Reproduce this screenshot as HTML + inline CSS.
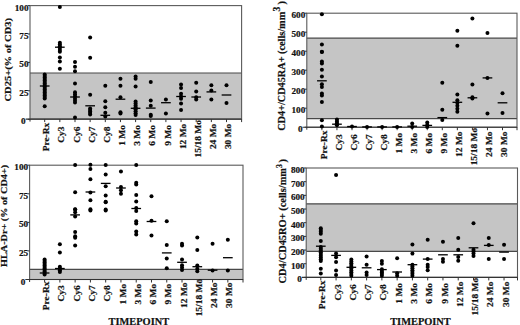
<!DOCTYPE html>
<html><head><meta charset="utf-8"><title>Figure</title>
<style>
html,body{margin:0;padding:0;background:#fff;}
body{width:520px;height:325px;overflow:hidden;}
svg{display:block;}
text{font-family:"Liberation Serif",serif;font-weight:bold;fill:#111;stroke:#111;stroke-width:0.2px;}
.yl{font-size:9.2px;text-anchor:end;}
.xl{font-size:9px;text-anchor:end;}
.yt{font-size:9px;}
.tp{font-size:10px;}
</style></head>
<body>
<svg width="520" height="325" viewBox="0 0 520 325">
<rect width="520" height="325" fill="#fff"/>
<rect x="30.0" y="73.0" width="211.6" height="46.3" fill="#c5c5c5"/>
<line x1="30.0" y1="73.0" x2="241.6" y2="73.0" stroke="#484848" stroke-width="1.2"/>
<rect x="30.0" y="5.6" width="211.6" height="113.5" fill="none" stroke="#5a5a5a" stroke-width="1.1"/>
<line x1="25.7" y1="119.1" x2="241.6" y2="119.1" stroke="#333" stroke-width="1.1"/>
<line x1="241.6" y1="119.1" x2="241.6" y2="122.1" stroke="#333" stroke-width="1"/>
<line x1="30.0" y1="119.1" x2="30.0" y2="121.6" stroke="#333" stroke-width="1"/>
<line x1="27.8" y1="5.6" x2="30.0" y2="5.6" stroke="#333" stroke-width="1"/>
<text x="28.5" y="10.6" class="yl">100</text>
<line x1="27.8" y1="34.0" x2="30.0" y2="34.0" stroke="#333" stroke-width="1"/>
<text x="28.5" y="39.0" class="yl">75</text>
<line x1="27.8" y1="62.4" x2="30.0" y2="62.4" stroke="#333" stroke-width="1"/>
<text x="28.5" y="67.4" class="yl">50</text>
<line x1="27.8" y1="90.8" x2="30.0" y2="90.8" stroke="#333" stroke-width="1"/>
<text x="28.5" y="95.8" class="yl">25</text>
<line x1="27.8" y1="119.3" x2="30.0" y2="119.3" stroke="#333" stroke-width="1"/>
<text x="25.7" y="124.3" class="yl">0</text>
<line x1="44.70" y1="119.1" x2="44.70" y2="122.1" stroke="#333" stroke-width="1"/>
<text class="xl" transform="translate(49.30,122.69) rotate(-90) scale(1.05,1)">Pre-Rx</text>
<line x1="59.85" y1="119.1" x2="59.85" y2="122.1" stroke="#333" stroke-width="1"/>
<text class="xl" transform="translate(64.45,126.42) rotate(-90) scale(1.05,1)">Cy3</text>
<line x1="75.00" y1="119.1" x2="75.00" y2="122.1" stroke="#333" stroke-width="1"/>
<text class="xl" transform="translate(79.60,126.42) rotate(-90) scale(1.05,1)">Cy6</text>
<line x1="90.15" y1="119.1" x2="90.15" y2="122.1" stroke="#333" stroke-width="1"/>
<text class="xl" transform="translate(94.75,126.42) rotate(-90) scale(1.05,1)">Cy7</text>
<line x1="105.30" y1="119.1" x2="105.30" y2="122.1" stroke="#333" stroke-width="1"/>
<text class="xl" transform="translate(109.90,126.42) rotate(-90) scale(1.05,1)">Cy8</text>
<line x1="120.45" y1="119.1" x2="120.45" y2="122.1" stroke="#333" stroke-width="1"/>
<text class="xl" transform="translate(125.05,125.08) rotate(-90) scale(1.05,1)">1 Mo</text>
<line x1="135.60" y1="119.1" x2="135.60" y2="122.1" stroke="#333" stroke-width="1"/>
<text class="xl" transform="translate(140.20,125.08) rotate(-90) scale(1.05,1)">3 Mo</text>
<line x1="150.75" y1="119.1" x2="150.75" y2="122.1" stroke="#333" stroke-width="1"/>
<text class="xl" transform="translate(155.35,125.08) rotate(-90) scale(1.05,1)">6 Mo</text>
<line x1="165.90" y1="119.1" x2="165.90" y2="122.1" stroke="#333" stroke-width="1"/>
<text class="xl" transform="translate(170.50,125.08) rotate(-90) scale(1.05,1)">9 Mo</text>
<line x1="181.05" y1="119.1" x2="181.05" y2="122.1" stroke="#333" stroke-width="1"/>
<text class="xl" transform="translate(185.65,123.66) rotate(-90) scale(1.05,1)">12 Mo</text>
<line x1="196.20" y1="119.1" x2="196.20" y2="122.1" stroke="#333" stroke-width="1"/>
<text class="xl" transform="translate(200.80,120.04) rotate(-90) scale(1.05,1)">15/18 Mo</text>
<line x1="211.35" y1="119.1" x2="211.35" y2="122.1" stroke="#333" stroke-width="1"/>
<text class="xl" transform="translate(215.95,123.66) rotate(-90) scale(1.05,1)">24 Mo</text>
<line x1="226.50" y1="119.1" x2="226.50" y2="122.1" stroke="#333" stroke-width="1"/>
<text class="xl" transform="translate(231.10,123.66) rotate(-90) scale(1.05,1)">30 Mo</text>
<circle cx="44.70" cy="74.5" r="2.0"/>
<circle cx="44.70" cy="76.0" r="2.0"/>
<circle cx="44.70" cy="77.5" r="2.0"/>
<circle cx="44.70" cy="79.0" r="2.0"/>
<circle cx="44.70" cy="80.5" r="2.0"/>
<circle cx="44.70" cy="82.0" r="2.0"/>
<circle cx="44.70" cy="83.5" r="2.0"/>
<circle cx="44.70" cy="85.0" r="2.0"/>
<circle cx="44.70" cy="86.5" r="2.0"/>
<circle cx="44.70" cy="88.0" r="2.0"/>
<circle cx="44.70" cy="89.5" r="2.0"/>
<circle cx="44.70" cy="91.0" r="2.0"/>
<circle cx="44.70" cy="92.5" r="2.0"/>
<circle cx="44.70" cy="94.0" r="2.0"/>
<circle cx="44.70" cy="95.5" r="2.0"/>
<circle cx="44.70" cy="97.0" r="2.0"/>
<circle cx="44.70" cy="98.5" r="2.0"/>
<circle cx="44.70" cy="106.3" r="2.0"/>
<rect x="39.85" y="85.35" width="9.7" height="1.3"/>
<circle cx="59.85" cy="6.9" r="2.0"/>
<circle cx="59.85" cy="42.7" r="2.0"/>
<circle cx="59.85" cy="44.5" r="2.0"/>
<circle cx="59.85" cy="46.3" r="2.0"/>
<circle cx="59.85" cy="48.1" r="2.0"/>
<circle cx="59.85" cy="49.9" r="2.0"/>
<circle cx="59.85" cy="51.7" r="2.0"/>
<circle cx="59.85" cy="57.5" r="2.0"/>
<circle cx="59.85" cy="61.6" r="2.0"/>
<circle cx="59.85" cy="68.8" r="2.0"/>
<rect x="55.00" y="46.55" width="9.7" height="1.3"/>
<circle cx="75.00" cy="62.0" r="2.0"/>
<circle cx="75.00" cy="66.7" r="2.0"/>
<circle cx="75.00" cy="71.3" r="2.0"/>
<circle cx="75.00" cy="83.4" r="2.0"/>
<circle cx="75.00" cy="92.2" r="2.0"/>
<circle cx="75.00" cy="94.28" r="2.0"/>
<circle cx="75.00" cy="96.36" r="2.0"/>
<circle cx="75.00" cy="98.44" r="2.0"/>
<circle cx="75.00" cy="100.52" r="2.0"/>
<circle cx="75.00" cy="102.6" r="2.0"/>
<circle cx="75.00" cy="117.4" r="2.0"/>
<rect x="70.15" y="96.35" width="9.7" height="1.3"/>
<circle cx="90.15" cy="37.6" r="2.0"/>
<circle cx="90.15" cy="57.8" r="2.0"/>
<circle cx="90.15" cy="94.7" r="2.0"/>
<circle cx="90.15" cy="108.5" r="2.0"/>
<circle cx="90.15" cy="110.0" r="2.0"/>
<circle cx="90.15" cy="111.5" r="2.0"/>
<circle cx="90.15" cy="113.0" r="2.0"/>
<circle cx="90.15" cy="114.5" r="2.0"/>
<rect x="85.30" y="105.15" width="9.7" height="1.3"/>
<circle cx="105.30" cy="85.8" r="2.0"/>
<circle cx="105.30" cy="101.2" r="2.0"/>
<circle cx="105.30" cy="107.3" r="2.0"/>
<circle cx="105.30" cy="112.7" r="2.0"/>
<circle cx="105.30" cy="116.5" r="2.0"/>
<rect x="100.45" y="114.65" width="9.7" height="1.3"/>
<circle cx="120.45" cy="78.8" r="2.0"/>
<circle cx="120.45" cy="85.8" r="2.0"/>
<circle cx="120.45" cy="97.3" r="2.0"/>
<circle cx="120.45" cy="112.2" r="2.0"/>
<circle cx="120.45" cy="113.5" r="2.0"/>
<rect x="115.60" y="98.55" width="9.7" height="1.3"/>
<circle cx="135.60" cy="76.5" r="2.0"/>
<circle cx="135.60" cy="78.8" r="2.0"/>
<circle cx="135.60" cy="86.4" r="2.0"/>
<circle cx="135.60" cy="101.5" r="2.0"/>
<circle cx="135.60" cy="103.44" r="2.0"/>
<circle cx="135.60" cy="105.38" r="2.0"/>
<circle cx="135.60" cy="107.32" r="2.0"/>
<circle cx="135.60" cy="109.26" r="2.0"/>
<circle cx="135.60" cy="111.2" r="2.0"/>
<circle cx="135.60" cy="113.14" r="2.0"/>
<circle cx="135.60" cy="115.08" r="2.0"/>
<rect x="130.75" y="107.65" width="9.7" height="1.3"/>
<circle cx="150.75" cy="81.9" r="2.0"/>
<circle cx="150.75" cy="100.4" r="2.0"/>
<circle cx="150.75" cy="105.8" r="2.0"/>
<circle cx="150.75" cy="114.8" r="2.0"/>
<circle cx="150.75" cy="116.0" r="2.0"/>
<rect x="145.90" y="107.45" width="9.7" height="1.3"/>
<circle cx="165.90" cy="99.6" r="2.0"/>
<circle cx="165.90" cy="113.5" r="2.0"/>
<rect x="161.05" y="102.05" width="9.7" height="1.3"/>
<circle cx="181.05" cy="84.5" r="2.0"/>
<circle cx="181.05" cy="88.1" r="2.0"/>
<circle cx="181.05" cy="93.8" r="2.0"/>
<circle cx="181.05" cy="96.5" r="2.0"/>
<circle cx="181.05" cy="98.8" r="2.0"/>
<circle cx="181.05" cy="103.5" r="2.0"/>
<circle cx="181.05" cy="110.1" r="2.0"/>
<rect x="176.20" y="95.85" width="9.7" height="1.3"/>
<circle cx="196.20" cy="82.7" r="2.0"/>
<circle cx="196.20" cy="91.6" r="2.0"/>
<circle cx="196.20" cy="97.3" r="2.0"/>
<circle cx="196.20" cy="99.6" r="2.0"/>
<rect x="191.35" y="96.35" width="9.7" height="1.3"/>
<circle cx="211.35" cy="85.3" r="2.0"/>
<circle cx="211.35" cy="90.4" r="2.0"/>
<circle cx="211.35" cy="99.6" r="2.0"/>
<rect x="206.50" y="91.25" width="9.7" height="1.3"/>
<circle cx="226.50" cy="85.3" r="2.0"/>
<circle cx="226.50" cy="103.0" r="2.0"/>
<rect x="221.65" y="94.35" width="9.7" height="1.3"/>
<text class="yt" style="font-size:9.0px" transform="translate(10.8,101.5) rotate(-90)" textLength="83.5" lengthAdjust="spacingAndGlyphs">CD25+(% of CD3)</text>
<rect x="306.8" y="38.2" width="210.2" height="80.5" fill="#c5c5c5"/>
<line x1="306.8" y1="38.2" x2="517.0" y2="38.2" stroke="#484848" stroke-width="1.2"/>
<line x1="306.8" y1="118.7" x2="517.0" y2="118.7" stroke="#484848" stroke-width="1.2"/>
<rect x="306.8" y="13.2" width="210.2" height="114.0" fill="none" stroke="#5a5a5a" stroke-width="1.1"/>
<line x1="302.5" y1="127.2" x2="517.0" y2="127.2" stroke="#333" stroke-width="1.1"/>
<line x1="517.0" y1="127.2" x2="517.0" y2="130.2" stroke="#333" stroke-width="1"/>
<line x1="306.8" y1="127.2" x2="306.8" y2="129.7" stroke="#333" stroke-width="1"/>
<line x1="304.6" y1="13.2" x2="306.8" y2="13.2" stroke="#333" stroke-width="1"/>
<text x="305.3" y="18.2" class="yl">600</text>
<line x1="304.6" y1="32.2" x2="306.8" y2="32.2" stroke="#333" stroke-width="1"/>
<text x="305.3" y="37.2" class="yl">500</text>
<line x1="304.6" y1="51.2" x2="306.8" y2="51.2" stroke="#333" stroke-width="1"/>
<text x="305.3" y="56.2" class="yl">400</text>
<line x1="304.6" y1="70.2" x2="306.8" y2="70.2" stroke="#333" stroke-width="1"/>
<text x="305.3" y="75.2" class="yl">300</text>
<line x1="304.6" y1="89.2" x2="306.8" y2="89.2" stroke="#333" stroke-width="1"/>
<text x="305.3" y="94.2" class="yl">200</text>
<line x1="304.6" y1="108.2" x2="306.8" y2="108.2" stroke="#333" stroke-width="1"/>
<text x="305.3" y="113.2" class="yl">100</text>
<line x1="304.6" y1="127.2" x2="306.8" y2="127.2" stroke="#333" stroke-width="1"/>
<text x="302.5" y="132.2" class="yl">0</text>
<line x1="321.90" y1="127.2" x2="321.90" y2="130.2" stroke="#333" stroke-width="1"/>
<text class="xl" transform="translate(326.50,130.49) rotate(-90) scale(1.05,1)">Pre-Rx</text>
<line x1="336.95" y1="127.2" x2="336.95" y2="130.2" stroke="#333" stroke-width="1"/>
<text class="xl" transform="translate(341.55,134.22) rotate(-90) scale(1.05,1)">Cy3</text>
<line x1="352.00" y1="127.2" x2="352.00" y2="130.2" stroke="#333" stroke-width="1"/>
<text class="xl" transform="translate(356.60,134.22) rotate(-90) scale(1.05,1)">Cy6</text>
<line x1="367.05" y1="127.2" x2="367.05" y2="130.2" stroke="#333" stroke-width="1"/>
<text class="xl" transform="translate(371.65,134.22) rotate(-90) scale(1.05,1)">Cy7</text>
<line x1="382.10" y1="127.2" x2="382.10" y2="130.2" stroke="#333" stroke-width="1"/>
<text class="xl" transform="translate(386.70,134.22) rotate(-90) scale(1.05,1)">Cy8</text>
<line x1="397.15" y1="127.2" x2="397.15" y2="130.2" stroke="#333" stroke-width="1"/>
<text class="xl" transform="translate(401.75,132.88) rotate(-90) scale(1.05,1)">1 Mo</text>
<line x1="412.20" y1="127.2" x2="412.20" y2="130.2" stroke="#333" stroke-width="1"/>
<text class="xl" transform="translate(416.80,132.88) rotate(-90) scale(1.05,1)">3 Mo</text>
<line x1="427.25" y1="127.2" x2="427.25" y2="130.2" stroke="#333" stroke-width="1"/>
<text class="xl" transform="translate(431.85,132.88) rotate(-90) scale(1.05,1)">6 Mo</text>
<line x1="442.30" y1="127.2" x2="442.30" y2="130.2" stroke="#333" stroke-width="1"/>
<text class="xl" transform="translate(446.90,132.88) rotate(-90) scale(1.05,1)">9 Mo</text>
<line x1="457.35" y1="127.2" x2="457.35" y2="130.2" stroke="#333" stroke-width="1"/>
<text class="xl" transform="translate(461.95,131.46) rotate(-90) scale(1.05,1)">12 Mo</text>
<line x1="472.40" y1="127.2" x2="472.40" y2="130.2" stroke="#333" stroke-width="1"/>
<text class="xl" transform="translate(477.00,127.84) rotate(-90) scale(1.05,1)">15/18 Mo</text>
<line x1="487.45" y1="127.2" x2="487.45" y2="130.2" stroke="#333" stroke-width="1"/>
<text class="xl" transform="translate(492.05,131.46) rotate(-90) scale(1.05,1)">24 Mo</text>
<line x1="502.50" y1="127.2" x2="502.50" y2="130.2" stroke="#333" stroke-width="1"/>
<text class="xl" transform="translate(507.10,131.46) rotate(-90) scale(1.05,1)">30 Mo</text>
<circle cx="321.90" cy="14.3" r="2.0"/>
<circle cx="321.90" cy="44.6" r="2.0"/>
<circle cx="321.90" cy="51.8" r="2.0"/>
<circle cx="321.90" cy="52.0" r="2.0"/>
<circle cx="321.90" cy="61.5" r="2.0"/>
<circle cx="321.90" cy="63.5" r="2.0"/>
<circle cx="321.90" cy="69.7" r="2.0"/>
<circle cx="321.90" cy="76.5" r="2.0"/>
<circle cx="321.90" cy="84.2" r="2.0"/>
<circle cx="321.90" cy="86.9" r="2.0"/>
<circle cx="321.90" cy="93.4" r="2.0"/>
<circle cx="321.90" cy="95.4" r="2.0"/>
<circle cx="321.90" cy="102.0" r="2.0"/>
<circle cx="321.90" cy="120.3" r="2.0"/>
<circle cx="321.90" cy="126.6" r="2.0"/>
<rect x="317.05" y="80.15" width="9.7" height="1.3"/>
<circle cx="336.95" cy="119.5" r="2.0"/>
<circle cx="336.95" cy="121.4" r="2.0"/>
<circle cx="336.95" cy="123.3" r="2.0"/>
<circle cx="336.95" cy="125.2" r="2.0"/>
<rect x="332.10" y="123.55" width="9.7" height="1.3"/>
<circle cx="352.00" cy="126.5" r="2.0"/>
<rect x="347.15" y="125.85" width="9.7" height="1.3"/>
<circle cx="367.05" cy="126.9" r="2.0"/>
<rect x="362.20" y="126.25" width="9.7" height="1.3"/>
<circle cx="382.10" cy="126.9" r="2.0"/>
<rect x="377.25" y="126.25" width="9.7" height="1.3"/>
<circle cx="397.15" cy="126.9" r="2.0"/>
<rect x="392.30" y="126.25" width="9.7" height="1.3"/>
<circle cx="412.20" cy="123.5" r="2.0"/>
<circle cx="412.20" cy="126.9" r="2.0"/>
<rect x="407.35" y="125.55" width="9.7" height="1.3"/>
<circle cx="427.25" cy="122.6" r="2.0"/>
<circle cx="427.25" cy="125.0" r="2.0"/>
<circle cx="427.25" cy="127.0" r="2.0"/>
<rect x="422.40" y="124.75" width="9.7" height="1.3"/>
<circle cx="442.30" cy="82.7" r="2.0"/>
<circle cx="442.30" cy="109.7" r="2.0"/>
<circle cx="442.30" cy="120.0" r="2.0"/>
<rect x="437.45" y="116.95" width="9.7" height="1.3"/>
<circle cx="457.35" cy="30.8" r="2.0"/>
<circle cx="457.35" cy="45.8" r="2.0"/>
<circle cx="457.35" cy="94.5" r="2.0"/>
<circle cx="457.35" cy="100.3" r="2.0"/>
<circle cx="457.35" cy="103.0" r="2.0"/>
<circle cx="457.35" cy="105.8" r="2.0"/>
<circle cx="457.35" cy="108.8" r="2.0"/>
<circle cx="457.35" cy="111.8" r="2.0"/>
<rect x="452.50" y="101.65" width="9.7" height="1.3"/>
<circle cx="472.40" cy="18.5" r="2.0"/>
<circle cx="472.40" cy="84.4" r="2.0"/>
<circle cx="472.40" cy="97.2" r="2.0"/>
<circle cx="472.40" cy="98.5" r="2.0"/>
<rect x="467.55" y="97.15" width="9.7" height="1.3"/>
<circle cx="487.45" cy="33.1" r="2.0"/>
<circle cx="487.45" cy="77.9" r="2.0"/>
<circle cx="487.45" cy="113.5" r="2.0"/>
<rect x="482.60" y="77.25" width="9.7" height="1.3"/>
<circle cx="502.50" cy="93.3" r="2.0"/>
<circle cx="502.50" cy="113.0" r="2.0"/>
<rect x="497.65" y="102.15" width="9.7" height="1.3"/>
<text class="yt" style="font-size:10.0px" transform="translate(284.8,130.8) rotate(-90)" textLength="119.00000000000001" lengthAdjust="spacingAndGlyphs">CD4+/CD45RA+ (cells/mm</text>
<text class="yt" style="font-size:9.5px" transform="translate(279.8,11.6) rotate(-90)">3</text>
<text class="yt" style="font-size:10.0px" transform="translate(284.8,4.6) rotate(-90)">)</text>
<rect x="29.6" y="269.3" width="213.4" height="10.199999999999989" fill="#c5c5c5"/>
<line x1="29.6" y1="269.3" x2="243.0" y2="269.3" stroke="#484848" stroke-width="1.2"/>
<rect x="29.6" y="165.2" width="213.4" height="114.30000000000001" fill="none" stroke="#5a5a5a" stroke-width="1.1"/>
<line x1="25.3" y1="279.5" x2="243.0" y2="279.5" stroke="#333" stroke-width="1.1"/>
<line x1="243.0" y1="279.5" x2="243.0" y2="282.5" stroke="#333" stroke-width="1"/>
<line x1="29.6" y1="279.5" x2="29.6" y2="282.0" stroke="#333" stroke-width="1"/>
<line x1="27.400000000000002" y1="165.2" x2="29.6" y2="165.2" stroke="#333" stroke-width="1"/>
<text x="28.1" y="170.2" class="yl">100</text>
<line x1="27.400000000000002" y1="193.8" x2="29.6" y2="193.8" stroke="#333" stroke-width="1"/>
<text x="28.1" y="198.8" class="yl">75</text>
<line x1="27.400000000000002" y1="222.4" x2="29.6" y2="222.4" stroke="#333" stroke-width="1"/>
<text x="28.1" y="227.4" class="yl">50</text>
<line x1="27.400000000000002" y1="250.9" x2="29.6" y2="250.9" stroke="#333" stroke-width="1"/>
<text x="28.1" y="255.9" class="yl">25</text>
<line x1="27.400000000000002" y1="279.5" x2="29.6" y2="279.5" stroke="#333" stroke-width="1"/>
<text x="25.3" y="284.5" class="yl">0</text>
<line x1="44.60" y1="279.5" x2="44.60" y2="282.5" stroke="#333" stroke-width="1"/>
<text class="xl" transform="translate(49.20,281.49) rotate(-90) scale(1.05,1)">Pre-Rx</text>
<line x1="59.87" y1="279.5" x2="59.87" y2="282.5" stroke="#333" stroke-width="1"/>
<text class="xl" transform="translate(64.47,285.22) rotate(-90) scale(1.05,1)">Cy3</text>
<line x1="75.14" y1="279.5" x2="75.14" y2="282.5" stroke="#333" stroke-width="1"/>
<text class="xl" transform="translate(79.74,285.22) rotate(-90) scale(1.05,1)">Cy6</text>
<line x1="90.41" y1="279.5" x2="90.41" y2="282.5" stroke="#333" stroke-width="1"/>
<text class="xl" transform="translate(95.01,285.22) rotate(-90) scale(1.05,1)">Cy7</text>
<line x1="105.68" y1="279.5" x2="105.68" y2="282.5" stroke="#333" stroke-width="1"/>
<text class="xl" transform="translate(110.28,285.22) rotate(-90) scale(1.05,1)">Cy8</text>
<line x1="120.95" y1="279.5" x2="120.95" y2="282.5" stroke="#333" stroke-width="1"/>
<text class="xl" transform="translate(125.55,283.88) rotate(-90) scale(1.05,1)">1 Mo</text>
<line x1="136.22" y1="279.5" x2="136.22" y2="282.5" stroke="#333" stroke-width="1"/>
<text class="xl" transform="translate(140.82,283.88) rotate(-90) scale(1.05,1)">3 Mo</text>
<line x1="151.49" y1="279.5" x2="151.49" y2="282.5" stroke="#333" stroke-width="1"/>
<text class="xl" transform="translate(156.09,283.88) rotate(-90) scale(1.05,1)">6 Mo</text>
<line x1="166.76" y1="279.5" x2="166.76" y2="282.5" stroke="#333" stroke-width="1"/>
<text class="xl" transform="translate(171.36,283.88) rotate(-90) scale(1.05,1)">9 Mo</text>
<line x1="182.03" y1="279.5" x2="182.03" y2="282.5" stroke="#333" stroke-width="1"/>
<text class="xl" transform="translate(186.63,282.46) rotate(-90) scale(1.05,1)">12 Mo</text>
<line x1="197.30" y1="279.5" x2="197.30" y2="282.5" stroke="#333" stroke-width="1"/>
<text class="xl" transform="translate(201.90,278.84) rotate(-90) scale(1.05,1)">15/18 Mo</text>
<line x1="212.57" y1="279.5" x2="212.57" y2="282.5" stroke="#333" stroke-width="1"/>
<text class="xl" transform="translate(217.17,282.46) rotate(-90) scale(1.05,1)">24 Mo</text>
<line x1="227.84" y1="279.5" x2="227.84" y2="282.5" stroke="#333" stroke-width="1"/>
<text class="xl" transform="translate(232.44,282.46) rotate(-90) scale(1.05,1)">30 Mo</text>
<circle cx="44.60" cy="259.6" r="2.0"/>
<circle cx="44.60" cy="261.1" r="2.0"/>
<circle cx="44.60" cy="262.6" r="2.0"/>
<circle cx="44.60" cy="264.1" r="2.0"/>
<circle cx="44.60" cy="265.6" r="2.0"/>
<circle cx="44.60" cy="267.1" r="2.0"/>
<circle cx="44.60" cy="268.6" r="2.0"/>
<circle cx="44.60" cy="270.1" r="2.0"/>
<circle cx="44.60" cy="271.6" r="2.0"/>
<circle cx="44.60" cy="273.1" r="2.0"/>
<circle cx="44.60" cy="274.6" r="2.0"/>
<rect x="39.75" y="272.35" width="9.7" height="1.3"/>
<circle cx="59.87" cy="244.3" r="2.0"/>
<circle cx="59.87" cy="252.6" r="2.0"/>
<circle cx="59.87" cy="266.7" r="2.0"/>
<circle cx="59.87" cy="268.5" r="2.0"/>
<circle cx="59.87" cy="270.3" r="2.0"/>
<circle cx="59.87" cy="272.1" r="2.0"/>
<rect x="55.02" y="267.85" width="9.7" height="1.3"/>
<circle cx="75.14" cy="165.1" r="2.0"/>
<circle cx="75.14" cy="192.3" r="2.0"/>
<circle cx="75.14" cy="209.2" r="2.0"/>
<circle cx="75.14" cy="209.5" r="2.0"/>
<circle cx="75.14" cy="212.3" r="2.0"/>
<circle cx="75.14" cy="216.6" r="2.0"/>
<circle cx="75.14" cy="232.0" r="2.0"/>
<circle cx="75.14" cy="236.2" r="2.0"/>
<circle cx="75.14" cy="237.7" r="2.0"/>
<circle cx="75.14" cy="245.4" r="2.0"/>
<rect x="70.29" y="214.25" width="9.7" height="1.3"/>
<circle cx="90.41" cy="164.7" r="2.0"/>
<circle cx="90.41" cy="169.0" r="2.0"/>
<circle cx="90.41" cy="179.2" r="2.0"/>
<circle cx="90.41" cy="192.6" r="2.0"/>
<circle cx="90.41" cy="200.3" r="2.0"/>
<circle cx="90.41" cy="209.2" r="2.0"/>
<circle cx="90.41" cy="210.5" r="2.0"/>
<rect x="85.56" y="191.35" width="9.7" height="1.3"/>
<circle cx="105.68" cy="165.1" r="2.0"/>
<circle cx="105.68" cy="174.6" r="2.0"/>
<circle cx="105.68" cy="186.2" r="2.0"/>
<circle cx="105.68" cy="195.4" r="2.0"/>
<circle cx="105.68" cy="201.8" r="2.0"/>
<circle cx="105.68" cy="202.3" r="2.0"/>
<circle cx="105.68" cy="209.5" r="2.0"/>
<circle cx="105.68" cy="210.5" r="2.0"/>
<rect x="100.83" y="182.75" width="9.7" height="1.3"/>
<circle cx="120.95" cy="171.5" r="2.0"/>
<circle cx="120.95" cy="187.0" r="2.0"/>
<circle cx="120.95" cy="190.2" r="2.0"/>
<circle cx="120.95" cy="193.8" r="2.0"/>
<rect x="116.10" y="187.35" width="9.7" height="1.3"/>
<circle cx="136.22" cy="164.9" r="2.0"/>
<circle cx="136.22" cy="182.8" r="2.0"/>
<circle cx="136.22" cy="184.6" r="2.0"/>
<circle cx="136.22" cy="195.1" r="2.0"/>
<circle cx="136.22" cy="201.5" r="2.0"/>
<circle cx="136.22" cy="208.0" r="2.0"/>
<circle cx="136.22" cy="211.1" r="2.0"/>
<circle cx="136.22" cy="221.2" r="2.0"/>
<circle cx="136.22" cy="223.4" r="2.0"/>
<circle cx="136.22" cy="231.5" r="2.0"/>
<circle cx="136.22" cy="234.6" r="2.0"/>
<rect x="131.37" y="207.85" width="9.7" height="1.3"/>
<circle cx="151.49" cy="196.2" r="2.0"/>
<circle cx="151.49" cy="220.8" r="2.0"/>
<circle cx="151.49" cy="235.4" r="2.0"/>
<rect x="146.64" y="220.85" width="9.7" height="1.3"/>
<circle cx="166.76" cy="221.2" r="2.0"/>
<circle cx="166.76" cy="245.0" r="2.0"/>
<circle cx="166.76" cy="258.5" r="2.0"/>
<circle cx="166.76" cy="268.3" r="2.0"/>
<rect x="161.91" y="252.25" width="9.7" height="1.3"/>
<circle cx="182.03" cy="243.7" r="2.0"/>
<circle cx="182.03" cy="245.6" r="2.0"/>
<circle cx="182.03" cy="259.6" r="2.0"/>
<circle cx="182.03" cy="265.2" r="2.0"/>
<circle cx="182.03" cy="267.5" r="2.0"/>
<circle cx="182.03" cy="270.0" r="2.0"/>
<rect x="177.18" y="261.65" width="9.7" height="1.3"/>
<circle cx="197.30" cy="237.5" r="2.0"/>
<circle cx="197.30" cy="250.0" r="2.0"/>
<circle cx="197.30" cy="265.4" r="2.0"/>
<circle cx="197.30" cy="268.7" r="2.0"/>
<circle cx="197.30" cy="271.2" r="2.0"/>
<rect x="192.45" y="266.05" width="9.7" height="1.3"/>
<circle cx="212.57" cy="243.7" r="2.0"/>
<circle cx="212.57" cy="270.6" r="2.0"/>
<rect x="207.72" y="269.55" width="9.7" height="1.3"/>
<circle cx="227.84" cy="239.8" r="2.0"/>
<circle cx="227.84" cy="270.6" r="2.0"/>
<rect x="222.99" y="257.05" width="9.7" height="1.3"/>
<text class="yt" style="font-size:9.0px" transform="translate(7.4,266.9) rotate(-90)" textLength="101.99999999999997" lengthAdjust="spacingAndGlyphs">HLA-Dr+ (% of CD4+)</text>
<rect x="306.2" y="203.8" width="211.3" height="47.599999999999994" fill="#c5c5c5"/>
<line x1="306.2" y1="203.8" x2="517.5" y2="203.8" stroke="#484848" stroke-width="1.2"/>
<line x1="306.2" y1="251.4" x2="517.5" y2="251.4" stroke="#484848" stroke-width="1.2"/>
<rect x="306.2" y="168.0" width="211.3" height="109.39999999999998" fill="none" stroke="#5a5a5a" stroke-width="1.1"/>
<line x1="301.9" y1="277.4" x2="517.5" y2="277.4" stroke="#333" stroke-width="1.1"/>
<line x1="517.5" y1="277.4" x2="517.5" y2="280.4" stroke="#333" stroke-width="1"/>
<line x1="306.2" y1="277.4" x2="306.2" y2="279.9" stroke="#333" stroke-width="1"/>
<line x1="304.0" y1="168.0" x2="306.2" y2="168.0" stroke="#333" stroke-width="1"/>
<text x="304.7" y="173.0" class="yl">800</text>
<line x1="304.0" y1="181.675" x2="306.2" y2="181.675" stroke="#333" stroke-width="1"/>
<text x="304.7" y="186.675" class="yl">700</text>
<line x1="304.0" y1="195.35" x2="306.2" y2="195.35" stroke="#333" stroke-width="1"/>
<text x="304.7" y="200.35" class="yl">600</text>
<line x1="304.0" y1="209.025" x2="306.2" y2="209.025" stroke="#333" stroke-width="1"/>
<text x="304.7" y="214.025" class="yl">500</text>
<line x1="304.0" y1="222.7" x2="306.2" y2="222.7" stroke="#333" stroke-width="1"/>
<text x="304.7" y="227.7" class="yl">400</text>
<line x1="304.0" y1="236.375" x2="306.2" y2="236.375" stroke="#333" stroke-width="1"/>
<text x="304.7" y="241.375" class="yl">300</text>
<line x1="304.0" y1="250.05" x2="306.2" y2="250.05" stroke="#333" stroke-width="1"/>
<text x="304.7" y="255.05" class="yl">200</text>
<line x1="304.0" y1="263.725" x2="306.2" y2="263.725" stroke="#333" stroke-width="1"/>
<text x="304.7" y="268.725" class="yl">100</text>
<line x1="304.0" y1="277.4" x2="306.2" y2="277.4" stroke="#333" stroke-width="1"/>
<text x="301.9" y="282.4" class="yl">0</text>
<line x1="320.80" y1="277.4" x2="320.80" y2="280.4" stroke="#333" stroke-width="1"/>
<text class="xl" transform="translate(325.40,280.54) rotate(-90) scale(1.05,1)">Pre-Rx</text>
<line x1="336.07" y1="277.4" x2="336.07" y2="280.4" stroke="#333" stroke-width="1"/>
<text class="xl" transform="translate(340.67,284.27) rotate(-90) scale(1.05,1)">Cy3</text>
<line x1="351.34" y1="277.4" x2="351.34" y2="280.4" stroke="#333" stroke-width="1"/>
<text class="xl" transform="translate(355.94,284.27) rotate(-90) scale(1.05,1)">Cy6</text>
<line x1="366.61" y1="277.4" x2="366.61" y2="280.4" stroke="#333" stroke-width="1"/>
<text class="xl" transform="translate(371.21,284.27) rotate(-90) scale(1.05,1)">Cy7</text>
<line x1="381.88" y1="277.4" x2="381.88" y2="280.4" stroke="#333" stroke-width="1"/>
<text class="xl" transform="translate(386.48,284.27) rotate(-90) scale(1.05,1)">Cy8</text>
<line x1="397.15" y1="277.4" x2="397.15" y2="280.4" stroke="#333" stroke-width="1"/>
<text class="xl" transform="translate(401.75,282.93) rotate(-90) scale(1.05,1)">1 Mo</text>
<line x1="412.42" y1="277.4" x2="412.42" y2="280.4" stroke="#333" stroke-width="1"/>
<text class="xl" transform="translate(417.02,282.93) rotate(-90) scale(1.05,1)">3 Mo</text>
<line x1="427.69" y1="277.4" x2="427.69" y2="280.4" stroke="#333" stroke-width="1"/>
<text class="xl" transform="translate(432.29,282.93) rotate(-90) scale(1.05,1)">6 Mo</text>
<line x1="442.96" y1="277.4" x2="442.96" y2="280.4" stroke="#333" stroke-width="1"/>
<text class="xl" transform="translate(447.56,282.93) rotate(-90) scale(1.05,1)">9 Mo</text>
<line x1="458.23" y1="277.4" x2="458.23" y2="280.4" stroke="#333" stroke-width="1"/>
<text class="xl" transform="translate(462.83,281.51) rotate(-90) scale(1.05,1)">12 Mo</text>
<line x1="473.50" y1="277.4" x2="473.50" y2="280.4" stroke="#333" stroke-width="1"/>
<text class="xl" transform="translate(478.10,277.89) rotate(-90) scale(1.05,1)">15/18 Mo</text>
<line x1="488.77" y1="277.4" x2="488.77" y2="280.4" stroke="#333" stroke-width="1"/>
<text class="xl" transform="translate(493.37,281.51) rotate(-90) scale(1.05,1)">24 Mo</text>
<line x1="504.04" y1="277.4" x2="504.04" y2="280.4" stroke="#333" stroke-width="1"/>
<text class="xl" transform="translate(508.64,281.51) rotate(-90) scale(1.05,1)">30 Mo</text>
<circle cx="320.80" cy="228.2" r="2.0"/>
<circle cx="320.80" cy="230.0" r="2.0"/>
<circle cx="320.80" cy="231.8" r="2.0"/>
<circle cx="320.80" cy="233.8" r="2.0"/>
<circle cx="320.80" cy="241.1" r="2.0"/>
<circle cx="320.80" cy="247.0" r="2.0"/>
<circle cx="320.80" cy="248.75" r="2.0"/>
<circle cx="320.80" cy="250.5" r="2.0"/>
<circle cx="320.80" cy="252.25" r="2.0"/>
<circle cx="320.80" cy="254.0" r="2.0"/>
<circle cx="320.80" cy="255.75" r="2.0"/>
<circle cx="320.80" cy="257.5" r="2.0"/>
<circle cx="320.80" cy="259.25" r="2.0"/>
<circle cx="320.80" cy="261.0" r="2.0"/>
<circle cx="320.80" cy="268.8" r="2.0"/>
<circle cx="320.80" cy="273.5" r="2.0"/>
<rect x="315.95" y="245.55" width="9.7" height="1.3"/>
<circle cx="336.07" cy="175.0" r="2.0"/>
<circle cx="336.07" cy="253.5" r="2.0"/>
<circle cx="336.07" cy="257.3" r="2.0"/>
<circle cx="336.07" cy="261.9" r="2.0"/>
<circle cx="336.07" cy="270.4" r="2.0"/>
<circle cx="336.07" cy="275.0" r="2.0"/>
<rect x="331.22" y="254.75" width="9.7" height="1.3"/>
<circle cx="351.34" cy="259.6" r="2.0"/>
<circle cx="351.34" cy="261.4" r="2.0"/>
<circle cx="351.34" cy="263.2" r="2.0"/>
<circle cx="351.34" cy="265.0" r="2.0"/>
<circle cx="351.34" cy="266.8" r="2.0"/>
<circle cx="351.34" cy="268.6" r="2.0"/>
<circle cx="351.34" cy="270.4" r="2.0"/>
<circle cx="351.34" cy="272.2" r="2.0"/>
<circle cx="351.34" cy="274.0" r="2.0"/>
<circle cx="351.34" cy="275.8" r="2.0"/>
<rect x="346.49" y="266.65" width="9.7" height="1.3"/>
<circle cx="366.61" cy="256.5" r="2.0"/>
<circle cx="366.61" cy="264.7" r="2.0"/>
<circle cx="366.61" cy="272.4" r="2.0"/>
<circle cx="366.61" cy="275.0" r="2.0"/>
<rect x="361.76" y="267.15" width="9.7" height="1.3"/>
<circle cx="381.88" cy="261.0" r="2.0"/>
<circle cx="381.88" cy="263.7" r="2.0"/>
<circle cx="381.88" cy="269.3" r="2.0"/>
<circle cx="381.88" cy="270.9" r="2.0"/>
<circle cx="381.88" cy="272.5" r="2.0"/>
<circle cx="381.88" cy="274.1" r="2.0"/>
<circle cx="381.88" cy="275.7" r="2.0"/>
<rect x="377.03" y="268.95" width="9.7" height="1.3"/>
<circle cx="397.15" cy="258.2" r="2.0"/>
<circle cx="397.15" cy="273.3" r="2.0"/>
<circle cx="397.15" cy="275.7" r="2.0"/>
<rect x="392.30" y="271.35" width="9.7" height="1.3"/>
<circle cx="412.42" cy="244.4" r="2.0"/>
<circle cx="412.42" cy="253.6" r="2.0"/>
<circle cx="412.42" cy="264.7" r="2.0"/>
<circle cx="412.42" cy="266.53" r="2.0"/>
<circle cx="412.42" cy="268.36" r="2.0"/>
<circle cx="412.42" cy="270.19" r="2.0"/>
<circle cx="412.42" cy="272.02" r="2.0"/>
<circle cx="412.42" cy="273.85" r="2.0"/>
<circle cx="412.42" cy="275.68" r="2.0"/>
<rect x="407.57" y="264.05" width="9.7" height="1.3"/>
<circle cx="427.69" cy="239.8" r="2.0"/>
<circle cx="427.69" cy="259.1" r="2.0"/>
<circle cx="427.69" cy="264.7" r="2.0"/>
<circle cx="427.69" cy="267.1" r="2.0"/>
<circle cx="427.69" cy="270.2" r="2.0"/>
<rect x="422.84" y="258.45" width="9.7" height="1.3"/>
<circle cx="442.96" cy="241.7" r="2.0"/>
<circle cx="442.96" cy="258.9" r="2.0"/>
<circle cx="442.96" cy="261.7" r="2.0"/>
<rect x="438.11" y="254.15" width="9.7" height="1.3"/>
<circle cx="458.23" cy="238.0" r="2.0"/>
<circle cx="458.23" cy="249.7" r="2.0"/>
<circle cx="458.23" cy="257.0" r="2.0"/>
<circle cx="458.23" cy="260.7" r="2.0"/>
<rect x="453.38" y="254.15" width="9.7" height="1.3"/>
<circle cx="473.50" cy="223.3" r="2.0"/>
<circle cx="473.50" cy="249.7" r="2.0"/>
<circle cx="473.50" cy="251.5" r="2.0"/>
<circle cx="473.50" cy="253.4" r="2.0"/>
<circle cx="473.50" cy="256.1" r="2.0"/>
<rect x="468.65" y="247.15" width="9.7" height="1.3"/>
<circle cx="488.77" cy="238.0" r="2.0"/>
<circle cx="488.77" cy="245.1" r="2.0"/>
<circle cx="488.77" cy="258.9" r="2.0"/>
<rect x="483.92" y="244.75" width="9.7" height="1.3"/>
<circle cx="504.04" cy="244.7" r="2.0"/>
<circle cx="504.04" cy="258.9" r="2.0"/>
<rect x="499.19" y="251.45" width="9.7" height="1.3"/>
<text class="yt" style="font-size:10.0px" transform="translate(285.8,283.5) rotate(-90)" textLength="115.5" lengthAdjust="spacingAndGlyphs">CD4/CD45RO+ (cells/mm</text>
<text class="yt" style="font-size:8.0px" transform="translate(281.5,168.0) rotate(-90)">3</text>
<text class="yt" style="font-size:10.0px" transform="translate(285.8,162.6) rotate(-90)">)</text>
<text class="tp" x="108.5" y="324.6" textLength="60.6" lengthAdjust="spacingAndGlyphs">TIMEPOINT</text>
<text class="tp" x="390.2" y="324.6" textLength="60.6" lengthAdjust="spacingAndGlyphs">TIMEPOINT</text>
</svg>
</body></html>
